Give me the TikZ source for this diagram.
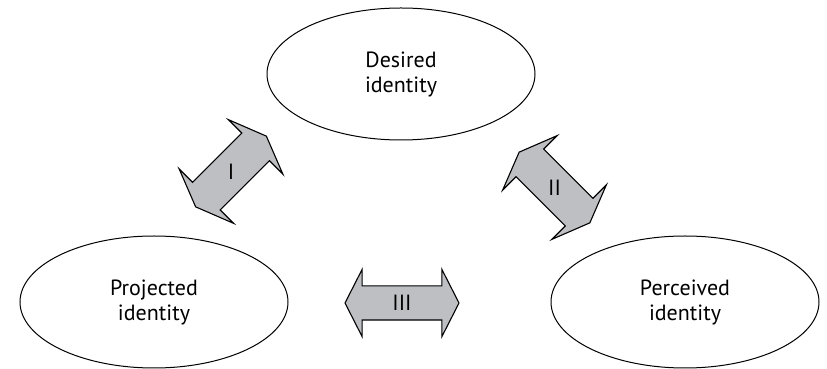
\documentclass[tikz,border=0pt]{standalone}
\usepackage{fontspec}
\setmainfont{PT Sans}
\usetikzlibrary{shapes.geometric, shapes.arrows}
\definecolor{arrowgray}{RGB}{190,191,195}

\begin{document}
\begin{tikzpicture}[x=1pt, y=1pt,
  idbox/.style={ellipse, draw, line width=1pt, minimum width=268pt, minimum height=132pt,
    align=center, font=\fontsize{22}{25}\selectfont},
  dblarrow/.style={double arrow, draw, fill=arrowgray, line width=1.1pt,
    inner xsep=0pt, inner ysep=19pt, double arrow head extend=19pt,
    double arrow tip angle=137, minimum height=100pt, minimum width=76pt},
  numlabel/.style={font=\fontsize{22}{25}\selectfont}]
\useasboundingbox (0,0) rectangle (827,369);
%ellipses
\node[idbox] (des) at (401,295) {Desired\\identity};
\node[idbox] (pro) at (154,67) {Projected\\identity};
\node[idbox] (per) at (685,67) {Perceived\\identity};
%arrows
\node[dblarrow, rotate=45] (arI) at (231,197.5) {};
\node[dblarrow, rotate=-45] (arII) at (554.5,181.5) {};
\node[dblarrow, inner ysep=16.5pt, double arrow head extend=16.5pt,
  double arrow tip angle=126, minimum height=114pt, minimum width=66pt] (arIII) at (402,66) {};
\node[numlabel] at (arI) {I};
\node[numlabel] at (arII) {II};
\node[numlabel] at (arIII) {III};

\end{tikzpicture}
\end{document}
